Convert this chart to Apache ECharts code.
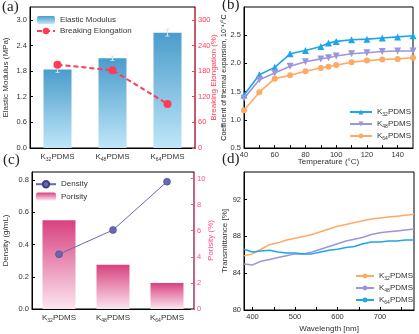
<!DOCTYPE html>
<html><head><meta charset="utf-8">
<script src="https://cdn.jsdelivr.net/npm/echarts@6/dist/echarts.min.js"></script>
<style>html,body{margin:0;padding:0;background:#fff}#c{width:419px;height:334px}</style>
</head><body><div id="c"></div>
<script>
// ---- data ----
const samples = ['K32PDMS', 'K48PDMS', 'K64PDMS'];
// (a)
const elasticModulus = [1.84, 2.10, 2.70];
const elasticErr = [0.07, 0.05, 0.08];
const breakingElongation = [195, 182, 103];
// (b)
const temperature = [40, 50, 60, 70, 80, 90, 95, 100, 110, 120, 130, 140, 150];
const cteK32 = [1.44, 1.80, 1.93, 2.17, 2.23, 2.30, 2.36, 2.39, 2.42, 2.43, 2.45, 2.47, 2.49];
const cteK48 = [1.38, 1.71, 1.83, 1.95, 2.03, 2.08, 2.10, 2.13, 2.17, 2.19, 2.21, 2.22, 2.22];
const cteK64 = [1.17, 1.49, 1.73, 1.79, 1.86, 1.92, 1.94, 1.97, 2.02, 2.05, 2.07, 2.08, 2.10];
const tempLabels = [40, 60, 80, 100, 120, 140];
const tempTicks = [40, 50, 60, 70, 80, 90, 100, 110, 120, 130, 140];
// (c)
const density = [0.34, 0.49, 0.79];
const porosity = [6.8, 3.4, 2.0];
// (d)
const wavelength = [380, 400, 420, 440, 460, 480, 500, 520, 540, 560, 580, 600, 620, 640, 660, 680, 700, 720, 740, 760, 780];
const transK32 = [85.9, 86.1, 86.6, 87.1, 87.3, 87.6, 87.8, 88.0, 88.2, 88.5, 88.8, 89.1, 89.3, 89.5, 89.7, 89.9, 90.0, 90.1, 90.2, 90.3, 90.4];
const transK48 = [85.0, 84.9, 85.3, 85.5, 85.7, 85.9, 86.1, 86.1, 86.3, 86.6, 86.9, 87.2, 87.5, 87.7, 87.9, 88.2, 88.4, 88.5, 88.6, 88.7, 88.8];
const transK64 = [86.6, 86.3, 86.4, 86.5, 86.3, 86.2, 86.2, 86.1, 86.1, 86.3, 86.5, 86.6, 86.8, 86.9, 87.2, 87.4, 87.4, 87.5, 87.5, 87.6, 87.6];
const waveLabels = [400, 500, 600, 700];
const waveTicks = [400, 450, 500, 550, 600, 650, 700, 750];

// ---- style helpers ----
const FONT = 'Liberation Sans, Arial, sans-serif';
const red = '#ff3b55', pink = '#ff4d8f';
const cBlue = '#1ea5ea', cPurple = '#9b96dc', cOrange = '#ffaa63';
const rich = {
  n: {fontSize: 8, fontFamily: FONT, color: '#333'},
  s: {fontSize: 5, fontFamily: FONT, color: '#333', verticalAlign: 'bottom', padding: [5, 0, 0, 0]}
};
function sub(name) {
  const m = name.trim().match(/^K(\d+)(PDMS)$/);
  return m ? '{n|K}{s|' + m[1] + '}{n|' + m[2] + '}' : '{n|' + name + '}';
}
const tick = {show: true, inside: true, length: 3, lineStyle: {color: '#000'}};
const lbl = {fontSize: 7.5, fontFamily: FONT, color: '#333', margin: 3};
const blk = {show: true, lineStyle: {color: '#000', width: 1}};
function grad(c0, c1) {
  return new echarts.graphic.LinearGradient(0, 0, 0, 1, [{offset: 0, color: c0}, {offset: 1, color: c1}]);
}
function errBar(params, api) {
  const x = api.value(0), v = api.value(1), e = api.value(2);
  const t = api.coord([x, v + e]), b = api.coord([x, v - e]);
  const st = {stroke: '#cbe6f5', lineWidth: 1};
  return {type: 'group', children: [
    {type: 'line', shape: {x1: t[0], y1: t[1], x2: b[0], y2: b[1]}, style: st},
    {type: 'line', shape: {x1: t[0] - 2, y1: t[1], x2: t[0] + 2, y2: t[1]}, style: st},
    {type: 'line', shape: {x1: b[0] - 2, y1: b[1], x2: b[0] + 2, y2: b[1]}, style: st}
  ]};
}

const chart = echarts.init(document.getElementById('c'), null, {renderer: 'canvas'});
const nameStyle = {fontSize: 8, fontFamily: FONT, color: '#333'};

chart.setOption({
  animation: false,
  backgroundColor: '#fff',
  graphic: [
    {type: 'text', left: 2, top: 0, style: {text: '(a)', font: '15px Liberation Serif, serif', fill: '#222'}},
    {type: 'text', left: 222, top: -2, style: {text: '(b)', font: '15px Liberation Serif, serif', fill: '#222'}},
    {type: 'text', left: 3, top: 153, style: {text: '(c)', font: '15px Liberation Serif, serif', fill: '#222'}},
    {type: 'text', left: 222, top: 152, style: {text: '(d)', font: '15px Liberation Serif, serif', fill: '#222'}}
  ],
  grid: [
    {left: 30, top: 7, width: 165, height: 141, show: true, borderColor: '#000', borderWidth: 1},
    {left: 244, top: 7, width: 169, height: 141, show: true, borderColor: '#000', borderWidth: 1},
    {left: 32, top: 172, width: 162, height: 137, show: true, borderColor: '#000', borderWidth: 1},
    {left: 244, top: 172, width: 170, height: 138, show: true, borderColor: '#000', borderWidth: 1}
  ],
  legend: [
    {orient: 'vertical', left: 31, top: 11, itemWidth: 18, itemHeight: 8, itemGap: 3,
     textStyle: {fontSize: 8, fontFamily: FONT, color: '#333'},
     data: ['Elastic Modulus', 'Breaking Elongation']},
    {orient: 'vertical', left: 344, top: 103, itemWidth: 22, itemHeight: 6, itemGap: 3,
     formatter: sub, textStyle: {rich: rich},
     data: ['K32PDMS', 'K48PDMS', 'K64PDMS']},
    {orient: 'vertical', left: 30, top: 175, itemWidth: 20, itemHeight: 8, itemGap: 4,
     textStyle: {fontSize: 8, fontFamily: FONT, color: '#333'},
     data: ['Density', 'Porisity']},
    {orient: 'vertical', left: 350, top: 267, itemWidth: 18, itemHeight: 6, itemGap: 3,
     formatter: sub, textStyle: {rich: rich},
     data: ['K32PDMS ', 'K48PDMS ', 'K64PDMS ']}
  ],
  xAxis: [
    {gridIndex: 0, type: 'category', data: samples, axisLine: blk, axisTick: {show: false},
     axisLabel: {formatter: sub, rich: rich, margin: 4, interval: 0}},
    {gridIndex: 1, type: 'value', min: 40, max: 150, axisLine: blk,
     axisTick: Object.assign({}, tick, {customValues: tempTicks}),
     axisLabel: Object.assign({}, lbl, {customValues: tempLabels}), splitLine: {show: false},
     name: 'Temperature (°C)', nameLocation: 'middle', nameGap: 10, nameMoveOverlap: false,
     nameTextStyle: {fontSize: 8, fontFamily: FONT, color: '#333'}},
    {gridIndex: 2, type: 'category', data: samples, axisLine: blk, axisTick: {show: false},
     axisLabel: {formatter: sub, rich: rich, margin: 4, interval: 0}},
    {gridIndex: 3, type: 'value', min: 380, max: 780, axisLine: blk,
     axisTick: Object.assign({}, tick, {customValues: waveTicks}),
     axisLabel: Object.assign({}, lbl, {customValues: waveLabels}), splitLine: {show: false},
     name: 'Wavelength [nm]', nameLocation: 'middle', nameGap: 15, nameMoveOverlap: false,
     nameTextStyle: {fontSize: 8, fontFamily: FONT, color: '#333'}}
  ],
  yAxis: [
    {gridIndex: 0, type: 'value', min: 0, max: 3.3, interval: 0.6, axisLine: blk, axisTick: tick,
     axisLabel: Object.assign({}, lbl, {showMaxLabel: false, formatter: v => v.toFixed(1)}), splitLine: {show: false},
     name: 'Elastic Modulus (MPa)', nameLocation: 'middle', nameGap: 20, nameMoveOverlap: false, nameTextStyle: nameStyle},
    {gridIndex: 0, type: 'value', position: 'right', min: 0, max: 330, interval: 60,
     axisLine: {show: true, lineStyle: {color: red, width: 1}}, axisTick: {show: true, inside: true, length: 3, lineStyle: {color: red}},
     axisLabel: Object.assign({}, lbl, {color: red, showMaxLabel: false}), splitLine: {show: false},
     name: 'Breaking Elongation (%)', nameLocation: 'middle', nameGap: 15, nameRotate: 90, nameMoveOverlap: false,
     nameTextStyle: {fontSize: 8, fontFamily: FONT, color: red}},
    {gridIndex: 1, type: 'value', min: 0.5, max: 3.0, interval: 0.5, axisLine: blk, axisTick: tick,
     axisLabel: Object.assign({}, lbl, {showMaxLabel: false, formatter: v => v.toFixed(1)}), splitLine: {show: false},
     name: 'Coefficient of thermal expansion, 10⁻⁴/°C', nameLocation: 'middle', nameGap: 16.5, nameMoveOverlap: false,
     nameTextStyle: {fontSize: 7, fontFamily: FONT, color: '#222'}},
    {gridIndex: 2, type: 'value', min: 0, max: 0.85, interval: 0.2, axisLine: blk, axisTick: tick,
     axisLabel: Object.assign({}, lbl, {showMaxLabel: false, formatter: v => v.toFixed(1)}), splitLine: {show: false},
     name: 'Density (g/mL)', nameLocation: 'middle', nameGap: 22, nameMoveOverlap: false, nameTextStyle: nameStyle},
    {gridIndex: 2, type: 'value', position: 'right', min: 0, max: 10.5, interval: 2,
     axisLine: {show: true, lineStyle: {color: pink, width: 1}}, axisTick: {show: true, inside: true, length: 3, lineStyle: {color: pink}},
     axisLabel: Object.assign({}, lbl, {color: pink, showMaxLabel: false}), splitLine: {show: false},
     name: 'Porisity (%)', nameLocation: 'middle', nameGap: 13, nameRotate: 90, nameMoveOverlap: false,
     nameTextStyle: {fontSize: 8, fontFamily: FONT, color: pink}},
    {gridIndex: 3, type: 'value', min: 80, max: 95, interval: 4, axisLine: blk, axisTick: tick,
     axisLabel: Object.assign({}, lbl, {showMaxLabel: false}), splitLine: {show: false},
     name: 'Transmittance [%]', nameLocation: 'middle', nameGap: 15, nameMoveOverlap: false, nameTextStyle: nameStyle}
  ],
  series: [
    // (a)
    {name: 'Elastic Modulus', type: 'bar', xAxisIndex: 0, yAxisIndex: 0, barWidth: 28,
     itemStyle: {color: grad('#4a9ccc', '#bfe6f8')}, data: elasticModulus},
    {name: 'ErrA', type: 'custom', xAxisIndex: 0, yAxisIndex: 0, renderItem: errBar, z: 5,
     data: elasticModulus.map((v, i) => [i, v, elasticErr[i]])},
    {name: 'Breaking Elongation', type: 'line', xAxisIndex: 0, yAxisIndex: 1,
     lineStyle: {color: red, width: 2, type: [5, 3]}, itemStyle: {color: red},
     symbol: 'circle', symbolSize: 8, z: 6, data: breakingElongation},
    // (b)
    {name: 'K32PDMS', type: 'line', xAxisIndex: 1, yAxisIndex: 2, color: cBlue, lineStyle: {width: 1.6},
     symbol: 'triangle', symbolSize: 7, data: temperature.map((t, i) => [t, cteK32[i]])},
    {name: 'K48PDMS', type: 'line', xAxisIndex: 1, yAxisIndex: 2, color: cPurple, lineStyle: {width: 1.6},
     symbol: 'triangle', symbolRotate: 180, symbolSize: 7, data: temperature.map((t, i) => [t, cteK48[i]])},
    {name: 'K64PDMS', type: 'line', xAxisIndex: 1, yAxisIndex: 2, color: cOrange, lineStyle: {width: 1.6},
     symbol: 'circle', symbolSize: 6, data: temperature.map((t, i) => [t, cteK64[i]])},
    // (c)
    {name: 'Porisity', type: 'bar', xAxisIndex: 2, yAxisIndex: 4, barWidth: 33,
     itemStyle: {color: grad('#d8417f', '#fce6f0')}, data: porosity},
    {name: 'Density', type: 'line', xAxisIndex: 2, yAxisIndex: 3, color: '#5b5ca8', lineStyle: {width: 1},
     itemStyle: {color: '#6668b0', borderColor: '#3e3f86', borderWidth: 0.5},
     symbol: 'circle', symbolSize: 7, z: 6, data: density},
    // (d)
    {name: 'K32PDMS ', type: 'line', xAxisIndex: 3, yAxisIndex: 5, color: cOrange, lineStyle: {width: 1.5},
     symbol: 'none', data: wavelength.map((w, i) => [w, transK32[i]])},
    {name: 'K48PDMS ', type: 'line', xAxisIndex: 3, yAxisIndex: 5, color: cPurple, lineStyle: {width: 1.5},
     symbol: 'none', data: wavelength.map((w, i) => [w, transK48[i]])},
    {name: 'K64PDMS ', type: 'line', xAxisIndex: 3, yAxisIndex: 5, color: cBlue, lineStyle: {width: 1.5},
     symbol: 'none', data: wavelength.map((w, i) => [w, transK64[i]])}
  ]
});
</script></body></html>
